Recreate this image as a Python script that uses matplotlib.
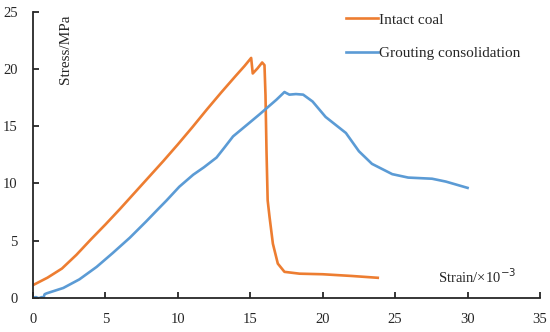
import matplotlib
matplotlib.use("Agg")
import matplotlib.pyplot as plt

# Intact coal
intact_x = [0.0, 1.0, 2.0, 3.0, 4.0, 5.0, 6.0, 7.0, 8.0, 9.0, 10.0, 11.0, 12.0, 13.0, 14.0, 14.6, 15.06,
            15.17, 15.5, 15.82, 15.98, 16.05, 16.12, 16.2, 16.33, 16.56, 16.9, 17.36, 18.4, 20.0, 22.0, 23.8]
intact_y = [1.10, 1.75, 2.55, 3.75, 5.1, 6.4, 7.75, 9.15, 10.55, 11.95, 13.4, 14.9, 16.45, 17.95, 19.4, 20.25, 20.96,
            19.6, 20.05, 20.56, 20.33, 17.7, 12.8, 8.5, 7.05, 4.72, 2.98, 2.26, 2.10, 2.05, 1.90, 1.74]

# Grouting consolidation
grout_x = [0.0, 0.2, 0.4, 0.6, 0.71, 0.8, 0.94, 2.09, 3.2, 4.39, 5.5, 6.69, 7.8, 8.64, 9.22, 10.1, 11.06,
           11.8, 12.67, 13.2, 13.81, 14.95, 15.66, 16.8, 17.36, 17.47, 17.7, 18.15, 18.65, 19.3, 20.2, 21.0,
           21.6, 22.5, 23.4, 24.8, 25.9, 27.55, 28.5, 30.0]
grout_y = [0.0, 0.05, -0.05, 0.05, -0.05, 0.3, 0.38, 0.85, 1.6, 2.69, 3.9, 5.25, 6.65, 7.75, 8.5, 9.7, 10.75,
           11.4, 12.25, 13.1, 14.1, 15.3, 16.05, 17.3, 17.98, 17.9, 17.75, 17.8, 17.75, 17.15, 15.8, 15.0,
           14.4, 12.8, 11.7, 10.8, 10.5, 10.4, 10.15, 9.6]

x_ticks = [0, 5, 10, 15, 20, 25, 30, 35]
y_ticks = [0, 5, 10, 15, 20, 25]

plt.rcParams['font.family'] = ['Liberation Serif', 'DejaVu Serif']
fig = plt.figure(figsize=(5.5, 3.32), dpi=100)
ax = fig.add_axes([33/550, 1-297.7/332, (540-33)/550, (297.7-11.7)/332])

l1, = ax.plot(intact_x, intact_y, color='#ED7D31', lw=1.9, label='Intact coal')
l2, = ax.plot(grout_x, grout_y, color='#5B9BD5', lw=1.9, label='Grouting consolidation')

ax.set_xlim(0, 35)
ax.set_ylim(0, 25)
ax.set_xticks(x_ticks)
ax.set_yticks(y_ticks)
ax.spines['top'].set_visible(False)
ax.spines['right'].set_visible(False)
for s in ['left', 'bottom']:
    ax.spines[s].set_linewidth(1.3)
    ax.spines[s].set_color('#262626')
ax.tick_params(direction='in', length=4, width=1.3, color='#262626', labelsize=10.5, pad=11)
for lab in ax.get_xticklabels() + ax.get_yticklabels():
    lab.set_color('#262626')

ax.text((65-33)/507, (297.7-14)/286, 'Stress/MPa', rotation=90, transform=ax.transAxes,
        ha='center', va='top', fontsize=11, color='#262626')
ax.text((438-33)/507, (297.7-277)/286, 'Strain/×10$^{-3}$', transform=ax.transAxes,
        ha='left', va='center', fontsize=10.5, color='#262626')

leg = fig.legend(handles=[l1, l2], loc='upper left', bbox_to_anchor=(346/550, 1-13/332),
                 frameon=False, fontsize=11, handlelength=2.1, handletextpad=0.05,
                 labelspacing=1.3, borderpad=0, borderaxespad=0)
for t in leg.get_texts():
    t.set_color('#262626')

fig.savefig('out.png', dpi=100)
